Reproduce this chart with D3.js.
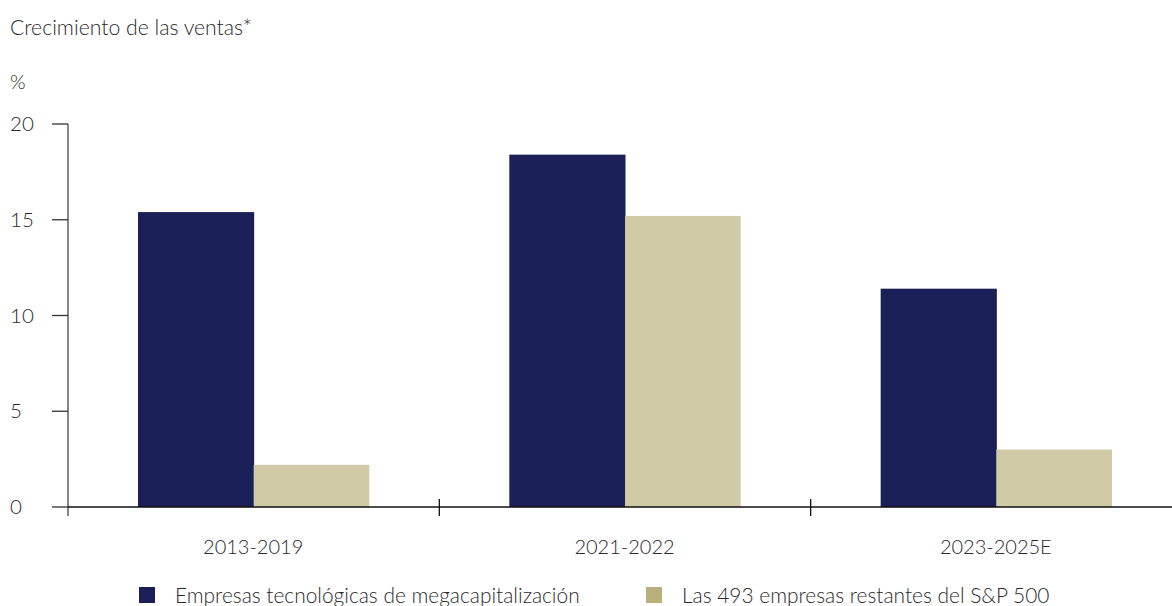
<!DOCTYPE html>
<html><head><meta charset="utf-8">
<script src="https://cdn.jsdelivr.net/npm/d3@7"></script>
<style>body{margin:0;background:#fff;} text{font-family:Lato, "Open Sans", sans-serif; font-weight:300; fill:#2a2a2a;}</style>
</head><body><svg id="c" width="1172" height="606"></svg>
<script>
const categories = ["2013-2019", "2021-2022", "2023-2025E"];
const seriesNames = ["Empresas tecnológicas de megacapitalización", "Las 493 empresas restantes del S&P 500"];
const megaCap = [15.4, 18.4, 11.4];
const rest493 = [2.2, 15.2, 3.0];
const yTicks = [0, 5, 10, 15, 20];
const barColors = ["#1b1f57", "#d0cba6"];
const legendColors = ["#1b1f57", "#b9b07e"];

const svg = d3.select("#c");
const x0 = 68, x1 = 1182, yTop = 124, yBot = 507;
const x = d3.scaleBand().domain(categories).range([x0, x1]).paddingInner(0).paddingOuter(0);
const y = d3.scaleLinear().domain([0, 20]).range([yBot, yTop]);

svg.append("text").attr("x", 10).attr("y", 35).style("font-size", "21.2px").text("Crecimiento de las ventas*");
svg.append("text").attr("x", 10).attr("y", 89).style("font-size", "20px").text("%");

// bars
const data = categories.map((c, i) => ({c, v: [megaCap[i], rest493[i]]}));
const inner = 70, bw = (x.bandwidth() - 2*inner) / 2;
const g = svg.append("g");
data.forEach(d => {
  d.v.forEach((v, j) => {
    g.append("rect")
      .attr("x", x(d.c) + inner + j*bw)
      .attr("y", y(v))
      .attr("width", bw + (j === 0 ? 0.5 : 0))
      .attr("height", y(0) - y(v))
      .attr("fill", barColors[j]);
  });
});

// y axis
const ya = svg.append("g");
ya.append("line").attr("x1", x0).attr("x2", x0).attr("y1", yTop).attr("y2", 516).attr("stroke", "#444").attr("stroke-width", 1.3);
yTicks.forEach(t => {
  ya.append("line").attr("x1", 52).attr("x2", x0).attr("y1", y(t)).attr("y2", y(t)).attr("stroke", "#333").attr("stroke-width", 1.3);
  ya.append("text").attr("x", 10).attr("y", y(t) + 7).style("font-size", "20.5px").text(t);
});

// x axis
const xa = svg.append("g");
xa.append("line").attr("x1", x0).attr("x2", 1172).attr("y1", yBot).attr("y2", yBot).attr("stroke", "#111").attr("stroke-width", 1.3);
categories.forEach((c, i) => {
  if (i > 0) xa.append("line").attr("x1", x(c)).attr("x2", x(c)).attr("y1", 499).attr("y2", 516).attr("stroke", "#111").attr("stroke-width", 1.3);
  xa.append("text").attr("x", x(c) + x.bandwidth()/2 - 0.5).attr("y", 554).attr("text-anchor", "middle").style("font-size", "20px").text(c);
});

// legend
const legX = [139, 646];
seriesNames.forEach((n, i) => {
  svg.append("rect").attr("x", legX[i]).attr("y", 587).attr("width", 16).attr("height", 16).attr("fill", legendColors[i]);
  svg.append("text").attr("x", legX[i] + 36).attr("y", 603).style("font-size", "20.9px").text(n);
});
</script></body></html>
